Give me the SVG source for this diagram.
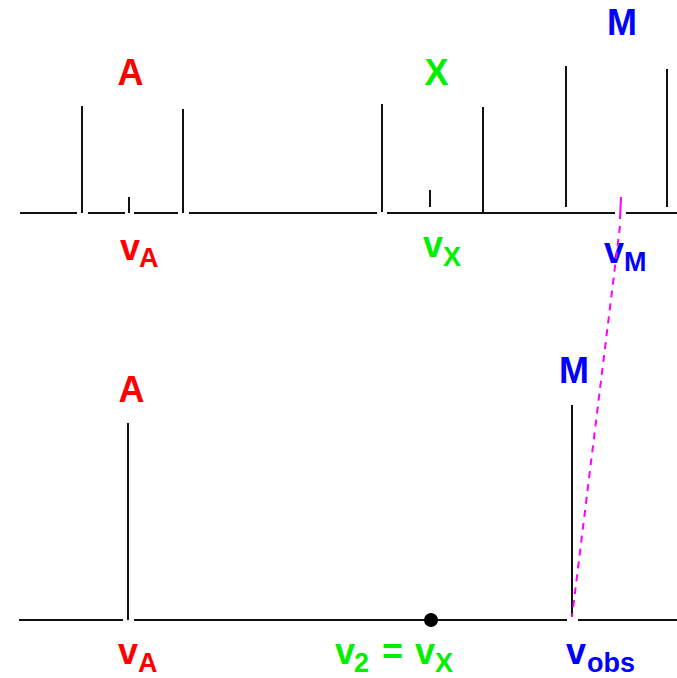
<svg xmlns="http://www.w3.org/2000/svg" width="677" height="678" viewBox="0 0 677 678">
<style>
.ln{stroke:#111;stroke-width:2;fill:none}
.lbl{font-family:"Liberation Sans",Arial,sans-serif;font-weight:bold;font-size:36px}
.sub{font-size:27px}
.red{fill:#ff0000}
.grn{fill:#00f000}
.blu{fill:#0000ff}
.mag{stroke:#ff00ff;stroke-width:2;fill:none}
</style>
<rect width="677" height="678" fill="#ffffff"/>
<g id="top-spectrum">
  <g id="top-baseline" class="ln">
    <line x1="20" y1="213" x2="77" y2="213"/>
    <line x1="88" y1="213" x2="125" y2="213"/>
    <line x1="134" y1="213" x2="178" y2="213"/>
    <line x1="189" y1="213" x2="377" y2="213"/>
    <line x1="387" y1="213" x2="615" y2="213"/>
    <line x1="626" y1="213" x2="677" y2="213"/>
  </g>
  <g id="top-A" class="ln">
    <line x1="82" y1="106" x2="82" y2="213"/>
    <line x1="129" y1="197" x2="129" y2="213"/>
    <line x1="183" y1="109" x2="183" y2="213"/>
  </g>
  <g id="top-X" class="ln">
    <line x1="382" y1="104" x2="382" y2="212"/>
    <line x1="430" y1="190" x2="430" y2="207"/>
    <line x1="483" y1="107" x2="483" y2="213"/>
  </g>
  <g id="top-M" class="ln">
    <line x1="566" y1="66" x2="566" y2="207"/>
    <line x1="667" y1="69" x2="667" y2="207"/>
  </g>
  <text class="lbl red" x="130.5" y="85" text-anchor="middle">A</text>
  <text class="lbl grn" x="436.5" y="85" text-anchor="middle">X</text>
  <text class="lbl blu" x="622" y="35" text-anchor="middle">M</text>
  <text class="lbl red" x="120" y="260">v<tspan class="sub" x="139" y="267">A</tspan></text>
  <text class="lbl grn" x="423" y="257">v<tspan class="sub" x="443" y="266">X</tspan></text>
  <text class="lbl blu" x="604" y="263">v<tspan class="sub" x="624" y="271">M</tspan></text>
</g>
<g id="bottom-spectrum">
  <g id="bottom-baseline" class="ln">
    <line x1="19" y1="620" x2="123" y2="620"/>
    <line x1="134" y1="620" x2="567" y2="620"/>
    <line x1="578" y1="620" x2="677" y2="620"/>
  </g>
  <g id="bottom-A" class="ln">
    <line x1="128" y1="423" x2="128" y2="620"/>
  </g>
  <g id="bottom-M" class="ln">
    <line x1="572" y1="405" x2="572" y2="617"/>
  </g>
  <circle id="v2-dot" cx="431" cy="620" r="7" fill="#000"/>
  <text class="lbl red" x="131.5" y="402" text-anchor="middle">A</text>
  <text class="lbl blu" x="574" y="383" text-anchor="middle">M</text>
  <text class="lbl red" x="118" y="664">v<tspan class="sub" x="138" y="672">A</tspan></text>
  <text class="lbl grn" x="335" y="664">v<tspan class="sub" x="354" y="672">2</tspan><tspan x="382" y="664">=</tspan><tspan x="415" y="664">v</tspan><tspan class="sub" x="435" y="672">X</tspan></text>
  <text class="lbl blu" x="566" y="664">v<tspan class="sub" x="587" y="672">obs</tspan></text>
</g>
<g id="connectors">
  <line class="mag" x1="621" y1="197" x2="620" y2="219"/>
  <line class="mag" x1="620" y1="226" x2="572" y2="617" stroke-dasharray="7 6"/>
</g>
</svg>
